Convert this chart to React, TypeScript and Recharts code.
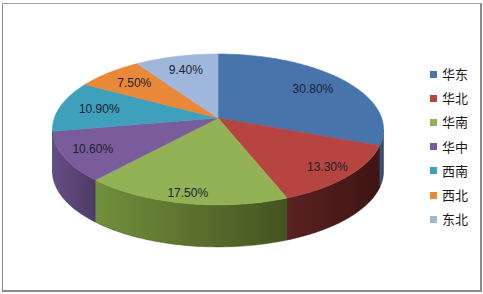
import React from 'react';
import { PieChart, Pie, Cell, Legend } from 'recharts';

// Regional share of sales (percent)
const regions = ['华东', '华北', '华南', '华中', '西南', '西北', '东北'];
const shares = [30.8, 13.3, 17.5, 10.6, 10.9, 7.5, 9.4];

const topColors = ['#4674AB', '#B64441', '#92B255', '#7A5B9B', '#3FA0BC', '#EA883A', '#A0B7DC'];
const sideLight = ['#3A5F8E', '#5A2220', '#728F3C', '#654D84', '#348AA3', '#C56F2C', '#8198BB'];
const sideDark = ['#2A4466', '#3E1514', '#435420', '#4E3B66', '#256A7E', '#9A5420', '#61779A'];

const data = regions.map((name, i) => ({ name, value: shares[i] }));

// Perspective tilt of the pie: far edge compressed, near edge enlarged
const K = 0.152;
const V_RATIO = 0.4505;
const DEPTH = 42;

function project(cx: number, cy: number, R: number, f: number, deg: number) {
  const t = (deg * Math.PI) / 180;
  const c = Math.cos(t) * f;
  const s = Math.sin(t) * f;
  const d = 1 + K * s;
  return { x: cx + (R * c) / d, y: cy - (V_RATIO * R * s) / d };
}

function arcPoints(cx: number, cy: number, R: number, a0: number, a1: number) {
  const n = Math.max(2, Math.ceil(Math.abs(a1 - a0)));
  const pts: { x: number; y: number }[] = [];
  for (let i = 0; i <= n; i++) {
    pts.push(project(cx, cy, R, 1, a0 + ((a1 - a0) * i) / n));
  }
  return pts;
}

const silhouette = (Math.asin(K) * 180) / Math.PI;
const FRONT_MIN = -180 + silhouette;
const FRONT_MAX = -silhouette;

function SlabSector(props: any) {
  const { cx, cy, outerRadius, startAngle, endAngle, index, name } = props;
  const idx = typeof index === 'number' ? index : regions.indexOf(name);
  const R = outerRadius;
  const top = arcPoints(cx, cy, R, startAngle, endAngle);
  const topPath =
    `M${cx},${cy} ` + top.map((p) => `L${p.x.toFixed(2)},${p.y.toFixed(2)}`).join(' ') + ' Z';

  const lo = Math.max(Math.min(startAngle, endAngle), FRONT_MIN);
  const hi = Math.min(Math.max(startAngle, endAngle), FRONT_MAX);
  let side: React.ReactNode = null;
  if (hi > lo) {
    const edge = arcPoints(cx, cy, R, hi, lo);
    const down = edge.slice().reverse().map((p) => ({ x: p.x, y: p.y + DEPTH }));
    const pts = edge.concat(down);
    const d = 'M' + pts.map((p) => `${p.x.toFixed(2)},${p.y.toFixed(2)}`).join(' L') + ' Z';
    side = <path d={d} fill={`url(#side-${idx})`} stroke={sideDark[idx]} strokeWidth={0.5} />;
  }
  return (
    <g>
      {side}
      <path d={topPath} fill={topColors[idx]} stroke={topColors[idx]} strokeWidth={0.6} />
    </g>
  );
}

function renderLabel(props: any) {
  const { cx, cy, outerRadius, midAngle, value } = props;
  const s = Math.sin((midAngle * Math.PI) / 180);
  const f = 0.75 + 0.15 * Math.max(0, -s);
  const p = project(cx, cy, outerRadius, f, midAngle);
  return (
    <text
      x={p.x}
      y={p.y}
      textAnchor="middle"
      dominantBaseline="central"
      fontFamily="'Liberation Sans', Arial, sans-serif"
      fontSize={12}
      fill="#1c1f2e"
    >
      {`${Number(value).toFixed(2)}%`}
    </text>
  );
}

// Legend keeps the data order
function LegendBox() {
  return (
    <div style={{ fontFamily: "'Noto Sans CJK SC', sans-serif", fontSize: 13, color: '#1a1a1a' }}>
      {regions.map((name, i) => (
        <div key={name} style={{ display: 'flex', alignItems: 'center', height: 24.2 }}>
          <span
            style={{ display: 'inline-block', width: 7, height: 7, background: topColors[i], marginRight: 5 }}
          />
          <span style={{ lineHeight: '14px' }}>{name}</span>
        </div>
      ))}
    </div>
  );
}

export default function App() {
  return (
    <div style={{ position: 'absolute', left: 0, top: 0, width: 483, height: 294, background: '#fff' }}>
      <div
        style={{
          position: 'absolute',
          left: 2,
          top: 3,
          width: 477,
          height: 286,
          borderTop: '1px solid #a6a6a6',
          borderLeft: '1px solid #8c8c8c',
          borderRight: '2px solid #8a8a8a',
          borderBottom: '2px solid #8a8a8a',
        }}
      />
      <div style={{ position: 'absolute', left: 0, top: 0 }}>
        <PieChart width={483} height={294}>
          <defs>
            {regions.map((_, i) => (
              <linearGradient key={i} id={`side-${i}`} x1="0" y1="0" x2="1" y2="0">
                <stop offset="0%" stopColor={sideLight[i]} />
                <stop offset="100%" stopColor={sideDark[i]} />
              </linearGradient>
            ))}
          </defs>
          <Pie
            data={data}
            dataKey="value"
            nameKey="name"
            cx={213}
            cy={113}
            outerRadius={163.6}
            startAngle={90}
            endAngle={-270}
            stroke="none"
            isAnimationActive={false}
            shape={SlabSector}
            activeShape={SlabSector}
            label={renderLabel}
            labelLine={false}
          >
            {data.map((d, i) => (
              <Cell key={d.name} fill={topColors[i]} />
            ))}
          </Pie>
          <Legend
            layout="vertical"
            content={LegendBox}
            wrapperStyle={{ position: 'absolute', left: 430, top: 62, width: 50 }}
          />
        </PieChart>
      </div>
    </div>
  );
}
